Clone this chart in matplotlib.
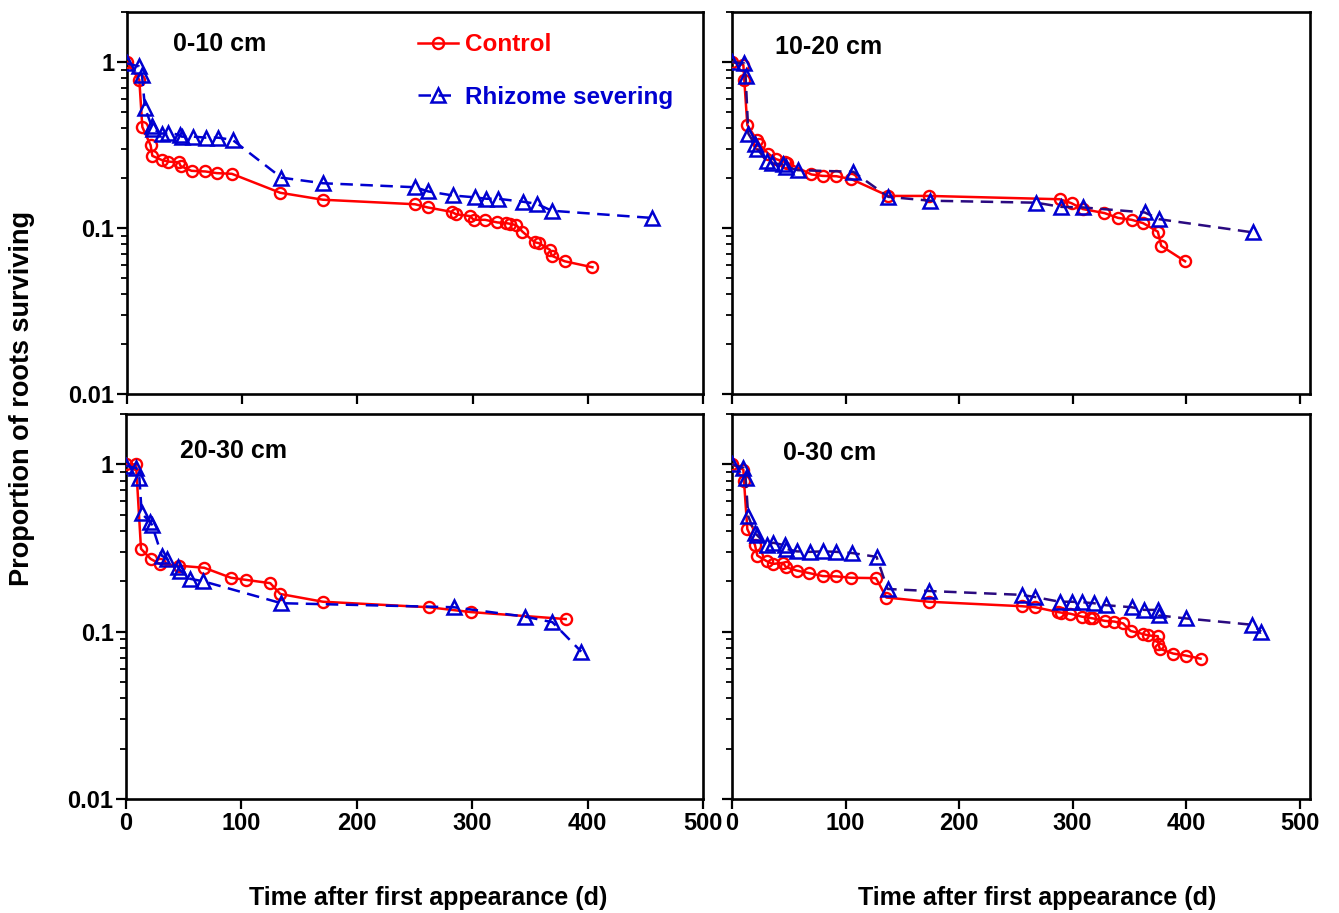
import numpy as np
import matplotlib
matplotlib.use("Agg")
import matplotlib.pyplot as plt
from matplotlib.ticker import FixedLocator, FixedFormatter, LogLocator, NullFormatter


OUT_PATH = "out.png"

RED = "#ff0000"
BLUE = "#0000d0"
NAVY = "#2a0a80"

# 0-10 cm
ctrl_0_10_d = [0, 10.7, 13.3, 20.5, 22, 30, 36, 45, 46.6, 56, 68, 78, 91, 133, 170, 250, 261,
               282, 285.6, 297.7, 301, 310.8, 321.5, 329, 332.5, 338, 343.3, 354, 357.6, 367, 368.7, 380, 404]
ctrl_0_10_p = [1.0, 0.78, 0.406, 0.315, 0.272, 0.257, 0.251, 0.249, 0.236, 0.221, 0.219, 0.214, 0.212,
               0.163, 0.148, 0.139, 0.133, 0.125, 0.121, 0.118, 0.112, 0.112, 0.108, 0.107, 0.106, 0.104,
               0.095, 0.082, 0.081, 0.074, 0.068, 0.063, 0.058]
rhiz_0_10_d = [0, 10.4, 13, 15.6, 21.4, 22.6, 30, 36, 46, 47.5, 57.6, 68.6, 79.3, 91.7, 134, 170,
               250, 261.6, 282.7, 302, 312, 322, 343.5, 355.6, 368.7, 455.5]
rhiz_0_10_p = [0.98, 0.94, 0.835, 0.53, 0.41, 0.395, 0.37, 0.375, 0.363, 0.355, 0.355, 0.35, 0.35,
               0.339, 0.201, 0.186, 0.176, 0.166, 0.157, 0.153, 0.15, 0.15, 0.144, 0.14, 0.127, 0.115]

# 10-20 cm
ctrl_10_20_d = [0, 10, 10.8, 13.5, 21.7, 24, 32, 38.7, 46.6, 48.7, 70, 79.8, 92, 105, 137.6, 173.4,
                288.7, 299, 309, 328, 340, 352, 362, 375, 378, 399]
ctrl_10_20_p = [1.0, 0.96, 0.78, 0.417, 0.34, 0.32, 0.28, 0.26, 0.25, 0.247, 0.21, 0.206, 0.205, 0.197,
                0.156, 0.156, 0.149, 0.141, 0.130, 0.123, 0.115, 0.112, 0.107, 0.095, 0.078, 0.063]
rhiz_10_20_d = [0, 10.8, 12, 14.4, 20, 22.3, 30.5, 34.8, 45, 47.5, 57.8, 106.8, 137.6, 174.5,
                268, 290, 309, 363.5, 376, 459]
rhiz_10_20_p = [1.0, 0.98, 0.82, 0.37, 0.32, 0.30, 0.253, 0.245, 0.242, 0.234, 0.223, 0.218, 0.154,
                0.146, 0.142, 0.134, 0.133, 0.124, 0.113, 0.094]

# 20-30 cm
ctrl_20_30_d = [0, 8.7, 13, 21.4, 29.5, 46, 67.7, 91, 104, 125, 133.7, 170.7, 262.5, 298.6, 381]
ctrl_20_30_p = [1.0, 1.0, 0.313, 0.272, 0.254, 0.248, 0.241, 0.21, 0.204, 0.195, 0.168, 0.151,
                0.140, 0.131, 0.119]
rhiz_20_30_d = [0, 9, 11.6, 13.6, 21, 22.4, 31, 35.3, 45.4, 47, 55.6, 67, 134.5, 284, 345.8, 369.5, 394.5]
rhiz_20_30_p = [0.98, 0.95, 0.83, 0.51, 0.45, 0.437, 0.285, 0.272, 0.243, 0.232, 0.207, 0.20,
                0.148, 0.14, 0.123, 0.114, 0.076]

# 0-30 cm
ctrl_0_30_d = [0, 10, 10.6, 13.5, 20.2, 22.3, 30.5, 35.8, 45, 47.5, 56.9, 68, 80, 92, 105, 126.8,
               136, 173.4, 255, 267, 287, 290, 298, 308, 315, 318, 328.5, 336.5, 344.5, 351, 361.5,
               366.5, 375, 375.5, 376.8, 388.5, 399.6, 412.6]
ctrl_0_30_p = [1.0, 0.93, 0.79, 0.41, 0.33, 0.285, 0.264, 0.254, 0.258, 0.243, 0.232, 0.224, 0.215,
               0.214, 0.21, 0.209, 0.16, 0.151, 0.142, 0.14, 0.131, 0.13, 0.128, 0.123, 0.121, 0.12,
               0.116, 0.115, 0.112, 0.101, 0.097, 0.095, 0.094, 0.084, 0.079, 0.074, 0.072, 0.069]
rhiz_0_30_d = [0, 10, 12, 14.3, 20, 22.3, 30.5, 36.4, 46.6, 47.2, 56.9, 68.6, 80, 92, 106, 127.3,
               137, 173.7, 255, 267, 288.5, 299, 308.5, 318.5, 329, 352, 363, 375, 376, 400, 458, 466]
rhiz_0_30_p = [1.0, 0.955, 0.83, 0.49, 0.39, 0.376, 0.33, 0.34, 0.328, 0.313, 0.302, 0.30, 0.302,
               0.30, 0.295, 0.28, 0.18, 0.175, 0.166, 0.161, 0.151, 0.151, 0.150, 0.148, 0.144, 0.14,
               0.135, 0.135, 0.125, 0.12, 0.11, 0.10]

panel_labels = ["0-10 cm", "10-20 cm", "20-30 cm", "0-30 cm"]
series_names = ["Control", "Rhizome severing"]
y_ticks = [0.01, 0.1, 1]
y_tick_labels = ["0.01", "0.1", "1"]
x_ticks = [0, 100, 200, 300, 400, 500]

TICK_FONT = ["Liberation Sans Narrow", "Liberation Sans", "DejaVu Sans"]
TEXT_FONT = ["Liberation Sans", "DejaVu Sans"]


def style_axes(ax, xmax, show_x, show_y):
    ax.set_yscale("log")
    ax.set_ylim(0.01, 2.0)
    ax.set_xlim(0, xmax)
    for sp in ax.spines.values():
        sp.set_linewidth(1.9)
    ax.yaxis.set_major_locator(FixedLocator(y_ticks))
    ax.yaxis.set_minor_locator(LogLocator(base=10, subs=np.arange(2, 10)))
    ax.yaxis.set_minor_formatter(NullFormatter())
    ax.set_xticks(x_ticks)
    ax.tick_params(axis="both", which="major", direction="out", length=7, width=1.6,
                   top=False, right=False, pad=2)
    ax.tick_params(axis="y", which="minor", direction="out", length=4, width=1.3, right=False)
    if show_y:
        ax.yaxis.set_major_formatter(FixedFormatter(y_tick_labels))
    else:
        ax.set_yticklabels([])
    if not show_x:
        ax.set_xticklabels([])
    for lab in ax.get_xticklabels() + ax.get_yticklabels():
        lab.set_family(TICK_FONT)
        lab.set_fontweight("bold")
        lab.set_fontsize(17)


def draw_panel(ax, cd, cp, rd, rp, label, dash_color, label_xy):
    ax.plot(cd, cp, "-", color=RED, lw=1.8, marker="o", ms=8, mfc="none",
            mec=RED, mew=1.7, label=series_names[0], zorder=3)
    ax.plot(rd, rp, "--", color=dash_color, lw=1.8, dashes=(5, 3), marker="^", ms=10,
            mfc="none", mec=BLUE, mew=1.8, label=series_names[1], zorder=4)
    ax.text(label_xy[0], label_xy[1], label, transform=ax.transAxes, ha="left", va="center",
            fontsize=18, fontweight="bold", family=TEXT_FONT)


def main():
    fig = plt.figure(figsize=(13.39, 9.13), dpi=100)

    ax1 = fig.add_axes([127 / 1339, 1 - 394 / 913, 576 / 1339, 382 / 913])
    ax2 = fig.add_axes([732 / 1339, 1 - 394 / 913, 578 / 1339, 382 / 913])
    ax3 = fig.add_axes([126 / 1339, 1 - 799 / 913, 577 / 1339, 385 / 913])
    ax4 = fig.add_axes([732 / 1339, 1 - 799 / 913, 578 / 1339, 385 / 913])

    draw_panel(ax1, ctrl_0_10_d, ctrl_0_10_p, rhiz_0_10_d, rhiz_0_10_p,
               panel_labels[0], BLUE, (0.08, 0.916))
    draw_panel(ax2, ctrl_10_20_d, ctrl_10_20_p, rhiz_10_20_d, rhiz_10_20_p,
               panel_labels[1], NAVY, (0.074, 0.908))
    draw_panel(ax3, ctrl_20_30_d, ctrl_20_30_p, rhiz_20_30_d, rhiz_20_30_p,
               panel_labels[2], BLUE, (0.094, 0.904))
    draw_panel(ax4, ctrl_0_30_d, ctrl_0_30_p, rhiz_0_30_d, rhiz_0_30_p,
               panel_labels[3], NAVY, (0.088, 0.90))

    style_axes(ax1, 500, show_x=False, show_y=True)
    style_axes(ax2, 509, show_x=False, show_y=False)
    style_axes(ax3, 500, show_x=True, show_y=True)
    style_axes(ax4, 509, show_x=True, show_y=False)

    leg = ax1.legend(loc="upper left", bbox_to_anchor=(0.505, 0.944), frameon=False,
                     handlelength=1.65, handletextpad=0.3, labelspacing=1.2,
                     borderpad=0, borderaxespad=0,
                     prop={"family": TEXT_FONT, "weight": "bold", "size": 17.5})
    for txt, col in zip(leg.get_texts(), [RED, BLUE]):
        txt.set_color(col)

    fig.text(22 / 1339, 1 - 398 / 913, "Proportion of roots surviving", rotation=90,
             ha="center", va="center", fontsize=19.5, fontweight="bold", family=TEXT_FONT)
    fig.text(428 / 1339, 1 - 898 / 913, "Time after first appearance (d)",
             ha="center", va="center", fontsize=18, fontweight="bold", family=TEXT_FONT)
    fig.text(1037 / 1339, 1 - 898 / 913, "Time after first appearance (d)",
             ha="center", va="center", fontsize=18, fontweight="bold", family=TEXT_FONT)

    fig.savefig(OUT_PATH, dpi=100)


if __name__ == "__main__":
    main()
